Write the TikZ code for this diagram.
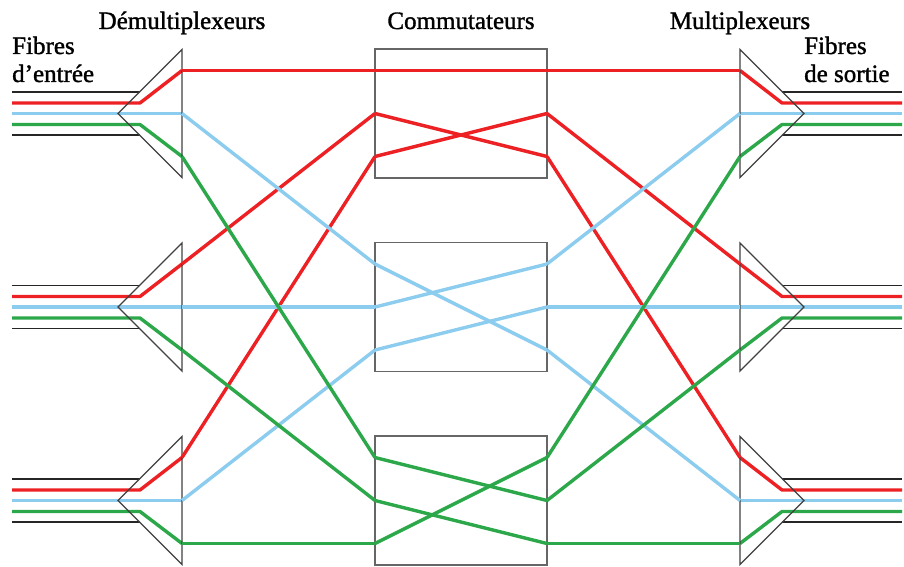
\documentclass[tikz,border=0pt]{standalone}
\usepackage{fontspec}
\setmainfont{Liberation Serif}[BoldFont=Liberation Serif,BoldFeatures={FakeBold=1.3}]
\definecolor{rouge}{RGB}{237,32,36}
\definecolor{bleu}{RGB}{140,204,238}
\definecolor{vert}{RGB}{44,168,74}

\begin{document}
\begin{tikzpicture}[x=1pt,y=-1pt]
	\tikzstyle{fibre}=[line width=3.4pt,line join=round]
	\tikzstyle{gaine}=[line width=1.3pt,black!85]
	\tikzstyle{prisme}=[line width=1.3pt,draw=black!75,line join=miter]
	\tikzstyle{commut}=[draw=black!60,line width=1.8pt,minimum width=172pt,minimum height=129pt,inner sep=0pt]
	\tikzstyle{titre}=[font=\fontsize{25}{28}\selectfont\bfseries,align=left,inner sep=0pt]
	\useasboundingbox (0,0) rectangle (904,567);

	\node[titre,anchor=base] (tdemux) at (182,29) {Démultiplexeurs};
	\node[titre,anchor=base] (tcommut) at (461,29) {Commutateurs};
	\node[titre,anchor=base] (tmux) at (740,29) {Multiplexeurs};
	\node[titre,anchor=base west] (tentree) at (12,82) {Fibres\\d’entrée};
	\node[titre,anchor=base west] (tsortie) at (804,82) {Fibres\\de sortie};

	\foreach \r/\y in {1/113.5,2/307,3/500.5}{
		\node[commut] (sw\r) at (461,\y) {};
		\draw[gaine] (12,\y-21.5) -- (140,\y-21.5) (12,\y+21.5) -- (140,\y+21.5);
		\draw[gaine] (782,\y-21.5) -- (902,\y-21.5) (782,\y+21.5) -- (902,\y+21.5);
		\foreach \p/\o/\f/\c in {1/0/32.5/rouge,2/43/43/bleu,3/86/54/vert}{
			\coordinate (dm\r-\p) at (182,\y-43+\o);
			\coordinate (mx\r-\p) at (740,\y-43+\o);
			\coordinate (swl\r-\p) at (375,\y-43+\o);
			\coordinate (swr\r-\p) at (547,\y-43+\o);
			\coordinate (ein\r-\p) at (12,\y-43+\f);
			\coordinate (ekn\r-\p) at (140,\y-43+\f);
			\coordinate (skn\r-\p) at (782,\y-43+\f);
			\coordinate (sor\r-\p) at (902,\y-43+\f);
			\draw[fibre,\c] (ein\r-\p) -- (ekn\r-\p) -- (dm\r-\p);
			\draw[fibre,\c] (mx\r-\p) -- (skn\r-\p) -- (sor\r-\p);
		}
		\draw[prisme] (182,\y-64) -- (118,\y) -- (182,\y+64) -- cycle;
		\draw[prisme] (740,\y-64) -- (804,\y) -- (740,\y+64) -- cycle;
	}

	\foreach \k/\c in {1/rouge,2/bleu,3/vert}
		\foreach \r in {1,2,3}{
			\draw[fibre,\c] (dm\r-\k) -- (swl\k-\r);
			\draw[fibre,\c] (swr\k-\r) -- (mx\r-\k);
		}
	\foreach \k/\a/\b/\c in {1/1/1/rouge,1/2/3/rouge,1/3/2/rouge,2/1/3/bleu,2/2/1/bleu,2/3/2/bleu,3/1/2/vert,3/2/3/vert,3/3/1/vert}
		\draw[fibre,\c] (swl\k-\a) -- (swr\k-\b);
\end{tikzpicture}
\end{document}
